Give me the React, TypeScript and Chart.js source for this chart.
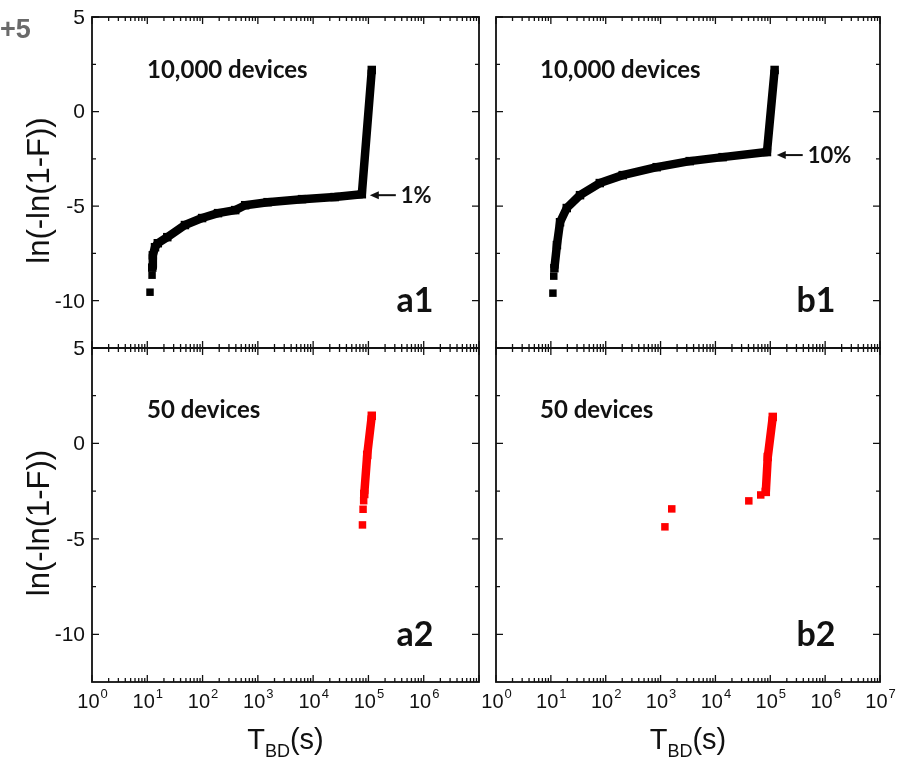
import React, { useEffect, useRef } from "react";
import { Chart, registerables } from "chart.js";
Chart.register(...registerables);

const W = 905;
const H = 760;

// ---- data (T_BD in s, ln(-ln(1-F))) ----
const a1Sparse: number[][] = [[11.2, -9.55], [12.2, -8.65]];
const a1Band: number[][] = [
  [12.3, -8.25], [12.6, -7.6], [13.8, -7.17], [15.5, -6.96], [23, -6.64], [48, -6.0],
  [98, -5.63], [190, -5.37], [390, -5.21], [590, -4.95], [1500, -4.79], [6300, -4.63],
  [24500, -4.52], [76000, -4.37], [115000, 2.2],
];
const b1Sparse: number[][] = [[10.9, -9.6], [11.3, -8.7]];
const b1Band: number[][] = [
  [11.6, -8.28], [12.9, -7.06], [14.7, -5.85], [19.5, -5.1], [34, -4.42], [78, -3.78],
  [204, -3.36], [850, -2.94], [3400, -2.62], [13500, -2.41], [87000, -2.14], [120000, 2.2],
];
const a2Sparse: number[][] = [[78000, -4.27], [80000, -3.45], [82000, -3.0]];
const a2Band: number[][] = [[84000, -2.65], [95000, -0.6], [115000, 1.45]];
const b2Sparse: number[][] = [[1200, -4.37], [1600, -3.43], [40600, -3.01], [67000, -2.7]];
const b2Band: number[][] = [[82800, -2.54], [90000, -0.71], [111000, 1.39]];

const xDecades = [1, 10, 100, 1e3, 1e4, 1e5, 1e6, 1e7];
const xExps = ["0", "1", "2", "3", "4", "5", "6", "7"];
const yMajor = [5, 0, -5, -10];
const yMinor = [2.5, -2.5, -7.5];
const yLabels = ["5", "0", "-5", "-10"];

const SANS = '"Liberation Sans", Arial, sans-serif';
const BOLD = '"Lato", "Open Sans", sans-serif';

type Panel = {
  area: { l: number; t: number; r: number; b: number };
  sparse: number[][];
  band: number[][];
  color: string;
  title: string;
  tag: string;
  showY: boolean;
  xLabelCount: number;
  note?: { text: string; x: number; y: number };
};

const panels: Panel[] = [
  { area: { l: 92, t: 17, r: 479, b: 348 }, sparse: a1Sparse, band: a1Band, color: "#000", title: "10,000 devices", tag: "a1", showY: true, xLabelCount: 0, note: { text: "1%", x: 1.06e5, y: -4.42 } },
  { area: { l: 496, t: 17, r: 880, b: 348 }, sparse: b1Sparse, band: b1Band, color: "#000", title: "10,000 devices", tag: "b1", showY: false, xLabelCount: 0, note: { text: "10%", x: 1.31e5, y: -2.3 } },
  { area: { l: 92, t: 348, r: 479, b: 682 }, sparse: a2Sparse, band: a2Band, color: "#ff0000", title: "50 devices", tag: "a2", showY: true, xLabelCount: 7 },
  { area: { l: 496, t: 348, r: 880, b: 682 }, sparse: b2Sparse, band: b2Band, color: "#ff0000", title: "50 devices", tag: "b2", showY: false, xLabelCount: 8 },
];

function makePlugin(p: Panel, idx: number) {
  return {
    id: "frame" + idx,
    afterDraw(chart: any) {
      const ctx: CanvasRenderingContext2D = chart.ctx;
      const { left, right, top, bottom } = chart.chartArea;
      const xs = chart.scales.x;
      const ys = chart.scales.y;
      ctx.save();
      ctx.strokeStyle = "#111";
      ctx.lineWidth = 1.8;
      ctx.strokeRect(left, top, right - left, bottom - top);
      ctx.lineWidth = 1.3;
      ctx.beginPath();
      xDecades.forEach((d) => {
        const px = xs.getPixelForValue(d);
        ctx.moveTo(px, bottom); ctx.lineTo(px, bottom - 7);
        ctx.moveTo(px, top); ctx.lineTo(px, top + 7);
        if (d < 1e7) {
          for (let m = 2; m <= 9; m++) {
            const mx = xs.getPixelForValue(d * m);
            ctx.moveTo(mx, bottom); ctx.lineTo(mx, bottom - 4);
            ctx.moveTo(mx, top); ctx.lineTo(mx, top + 4);
          }
        }
      });
      yMajor.forEach((v) => {
        const py = ys.getPixelForValue(v);
        ctx.moveTo(left, py); ctx.lineTo(left + 7, py);
        ctx.moveTo(right, py); ctx.lineTo(right - 7, py);
      });
      yMinor.forEach((v) => {
        const py = ys.getPixelForValue(v);
        ctx.moveTo(left, py); ctx.lineTo(left + 4, py);
        ctx.moveTo(right, py); ctx.lineTo(right - 4, py);
      });
      ctx.stroke();

      ctx.fillStyle = "#111";
      if (p.showY) {
        ctx.font = "21px " + SANS;
        ctx.textAlign = "right";
        ctx.textBaseline = "middle";
        yMajor.forEach((v, i) => {
          ctx.fillText(yLabels[i], left - 7, ys.getPixelForValue(v) + 1);
        });
        // axis title
        ctx.save();
        ctx.translate(40, (top + bottom) / 2 + 8);
        ctx.rotate(-Math.PI / 2);
        ctx.font = "31px " + SANS;
        ctx.textAlign = "center";
        ctx.textBaseline = "middle";
        ctx.fillText("ln(-ln(1-F))", 0, 0);
        ctx.restore();
      }
      if (p.xLabelCount > 0) {
        for (let i = 0; i < p.xLabelCount; i++) {
          const cx = xs.getPixelForValue(xDecades[i]);
          ctx.font = "20px " + SANS;
          const w1 = ctx.measureText("10").width;
          ctx.font = "13px " + SANS;
          const w2 = ctx.measureText(xExps[i]).width;
          const x0 = cx - (w1 + w2) / 2;
          ctx.textAlign = "left";
          ctx.textBaseline = "alphabetic";
          ctx.font = "20px " + SANS;
          ctx.fillText("10", x0, 708);
          ctx.font = "13px " + SANS;
          ctx.fillText(xExps[i], x0 + w1 + 1, 698);
        }
        // x title T_BD(s)
        ctx.font = "29px " + SANS;
        const wT = ctx.measureText("T").width;
        const wS = ctx.measureText("(s)").width;
        ctx.font = "18px " + SANS;
        const wB = ctx.measureText("BD").width;
        const cx = (left + right) / 2;
        const x0 = cx - (wT + wB + wS) / 2;
        ctx.textAlign = "left";
        ctx.textBaseline = "alphabetic";
        ctx.font = "29px " + SANS;
        ctx.fillText("T", x0, 749);
        ctx.font = "18px " + SANS;
        ctx.fillText("BD", x0 + wT, 757);
        ctx.font = "29px " + SANS;
        ctx.fillText("(s)", x0 + wT + wB, 749);
      }

      // panel title & tag
      ctx.fillStyle = "#111";
      ctx.font = "bold 24px " + BOLD;
      ctx.textAlign = "left";
      ctx.textBaseline = "middle";
      ctx.fillText(p.title, left + (idx % 2 === 0 ? 55 : 44), top + (idx < 2 ? 53 : 62));
      ctx.font = "bold 34px " + BOLD;
      ctx.textAlign = "center";
      ctx.fillText(p.tag, right - 64, bottom - 47);

      if (p.note) {
        const tx = xs.getPixelForValue(p.note.x);
        const ty = ys.getPixelForValue(p.note.y);
        ctx.strokeStyle = "#111";
        ctx.lineWidth = 2;
        ctx.beginPath();
        ctx.moveTo(tx + 5, ty);
        ctx.lineTo(tx + 26, ty);
        ctx.stroke();
        ctx.beginPath();
        ctx.moveTo(tx, ty);
        ctx.lineTo(tx + 9, ty - 4);
        ctx.lineTo(tx + 9, ty + 4);
        ctx.closePath();
        ctx.fill();
        ctx.font = "bold 22px " + BOLD;
        ctx.textAlign = "left";
        ctx.textBaseline = "middle";
        ctx.fillText(p.note.text, tx + 31, ty + 1);
      }

      if (idx === 0) {
        ctx.fillStyle = "#6a6a6a";
        ctx.font = "bold 27px " + SANS;
        ctx.textAlign = "left";
        ctx.textBaseline = "middle";
        ctx.fillText("+5", 0, 31);
      }
      ctx.restore();
    },
  };
}

function PanelChart({ p, idx }: { p: Panel; idx: number }) {
  const ref = useRef<HTMLCanvasElement | null>(null);
  useEffect(() => {
    const canvas = ref.current!;
    const chart = new Chart(canvas, {
      type: "scatter",
      data: {
        datasets: [
          {
            data: p.band.map(([x, y]) => ({ x, y })),
            showLine: true,
            borderColor: p.color,
            backgroundColor: p.color,
            borderWidth: 8.5,
            borderJoinStyle: "round",
            pointStyle: "rect",
            pointRadius: 6,
            pointBorderWidth: 0,
            tension: 0,
          } as any,
          {
            data: p.sparse.map(([x, y]) => ({ x, y })),
            showLine: false,
            backgroundColor: p.color,
            borderColor: p.color,
            pointStyle: "rect",
            pointRadius: 5.3,
            pointBorderWidth: 0,
          } as any,
        ],
      },
      options: {
        responsive: false,
        animation: false,
        devicePixelRatio: 1,
        events: [],
        layout: { padding: { left: p.area.l, top: p.area.t, right: W - p.area.r, bottom: H - p.area.b } },
        scales: {
          x: { type: "logarithmic", min: 1, max: 1e7, display: false },
          y: { type: "linear", min: -12.5, max: 5, display: false },
        },
        plugins: { legend: { display: false }, tooltip: { enabled: false } },
      },
      plugins: [makePlugin(p, idx)],
    });
    return () => chart.destroy();
  }, [p, idx]);
  return (
    <canvas
      ref={ref}
      width={W}
      height={H}
      style={{ position: "absolute", left: 0, top: 0, width: W, height: H }}
    />
  );
}

export default function App() {
  return (
    <div style={{ position: "absolute", left: 0, top: 0, width: W, height: H, background: "#fff", overflow: "hidden" }}>
      {panels.map((p, i) => (
        <PanelChart key={i} p={p} idx={i} />
      ))}
    </div>
  );
}
